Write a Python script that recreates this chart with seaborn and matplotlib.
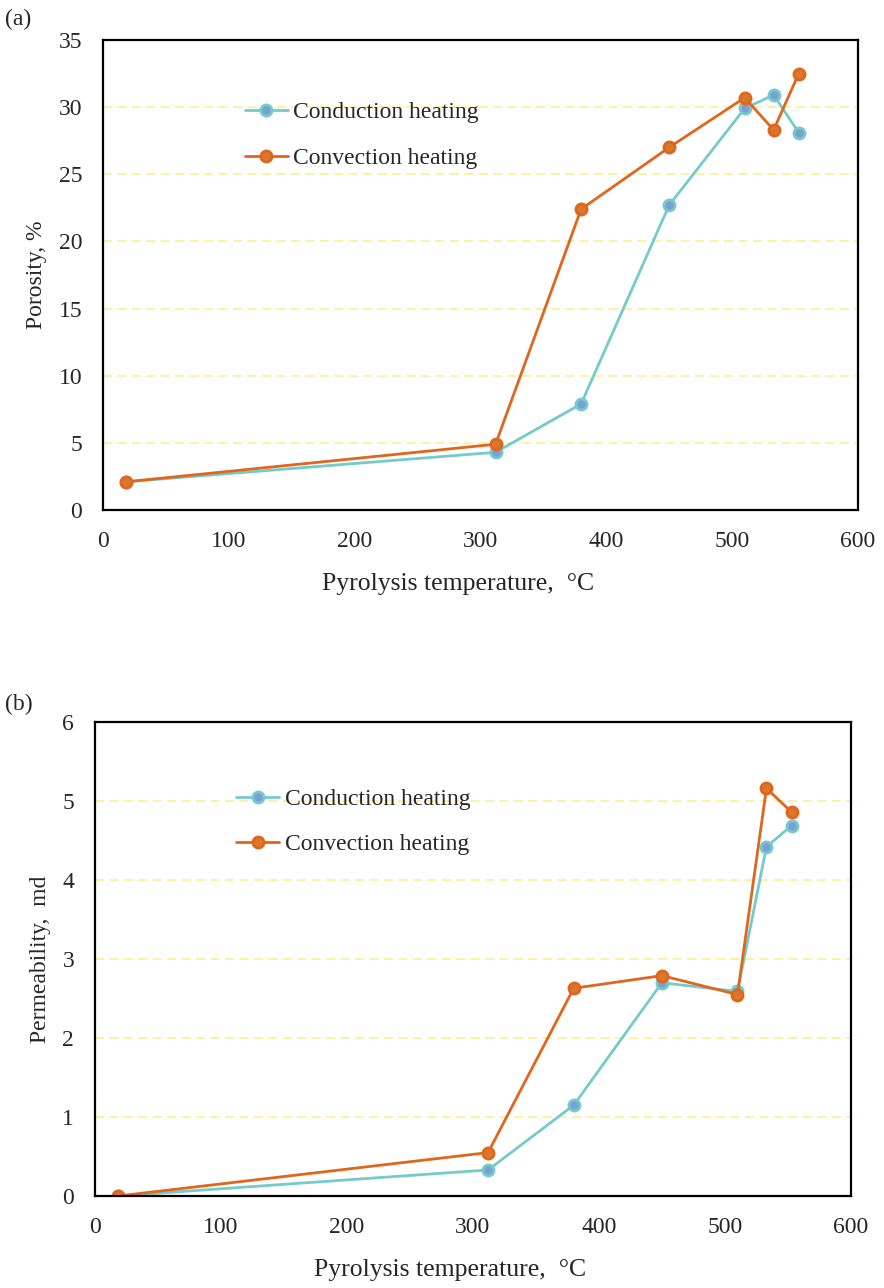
import numpy as np
import pandas as pd
import matplotlib
matplotlib.use("Agg")
import matplotlib.pyplot as plt
import seaborn as sns

sns.set_style("white")
plt.rcParams["font.family"] = ["Liberation Serif", "Noto Sans CJK SC", "DejaVu Sans"]

# data
temp = [18, 312, 380, 450, 510, 533, 553]
por_conduction = [2.1, 4.3, 7.9, 22.7, 29.9, 30.9, 28.1]
por_convection = [2.1, 4.9, 22.4, 27.0, 30.7, 28.3, 32.5]
perm_conduction = [0.0, 0.33, 1.15, 2.70, 2.59, 4.42, 4.69]
perm_convection = [0.0, 0.55, 2.63, 2.79, 2.55, 5.16, 4.86]
series_names = ["Conduction heating", "Convection heating"]

line_colors = ["#75CACA", "#E0661C"]
face_colors = ["#7C9ED6", "#D8782E"]

FS = 17

fig = plt.figure(figsize=(8.84, 12.88), dpi=100)
ax_a = fig.add_axes([0.1165, 0.604, 0.854, 0.365])
ax_b = fig.add_axes([0.1075, 0.0714, 0.855, 0.368])


def draw(ax, ys, ylim, yticks, ylabel, leg_anchor, spacing):
    for y, name, lc, fc in zip(ys, series_names, line_colors, face_colors):
        sns.lineplot(x=temp, y=y, ax=ax, color=lc, linewidth=2, marker="o",
                     markersize=8, markerfacecolor=fc, markeredgecolor=lc,
                     markeredgewidth=2, label=name, sort=False)
    ax.set_xlim(0, 600)
    ax.set_ylim(*ylim)
    ax.set_xticks(range(0, 601, 100))
    ax.set_yticks(yticks)
    ax.yaxis.grid(True, color="#FFF09A", linestyle=(0, (5, 3)), linewidth=1.3)
    ax.xaxis.grid(False)
    for s in ax.spines.values():
        s.set_color("black")
        s.set_linewidth(1.6)
    ax.tick_params(axis="x", length=0, labelsize=FS, pad=15)
    ax.tick_params(axis="y", length=0, labelsize=FS, pad=15)
    ax.set_xlabel("Pyrolysis temperature,  \u00b0C", fontsize=FS + 1.5,
                  labelpad=15)
    ax.xaxis.label.set_x(0.47)
    ax.set_ylabel(ylabel, fontsize=FS, labelpad=8)
    leg = ax.legend(loc="upper left", bbox_to_anchor=leg_anchor, frameon=False,
                    fontsize=FS, handlelength=1.8, handletextpad=0.25,
                    labelspacing=spacing)
    return leg


draw(ax_a, [por_conduction, por_convection], (0, 35), range(0, 36, 5),
     "Porosity, %", (0.160, 0.914), 1.05)
draw(ax_b, [perm_conduction, perm_convection], (0, 6), range(0, 7),
     "Permeability,  md", (0.159, 0.904), 0.98)

fig.text(0.006, 0.985, "(a)", fontsize=FS, va="center")
fig.text(0.006, 0.453, "(b)", fontsize=FS, va="center")

fig.savefig("out.png", dpi=100)
